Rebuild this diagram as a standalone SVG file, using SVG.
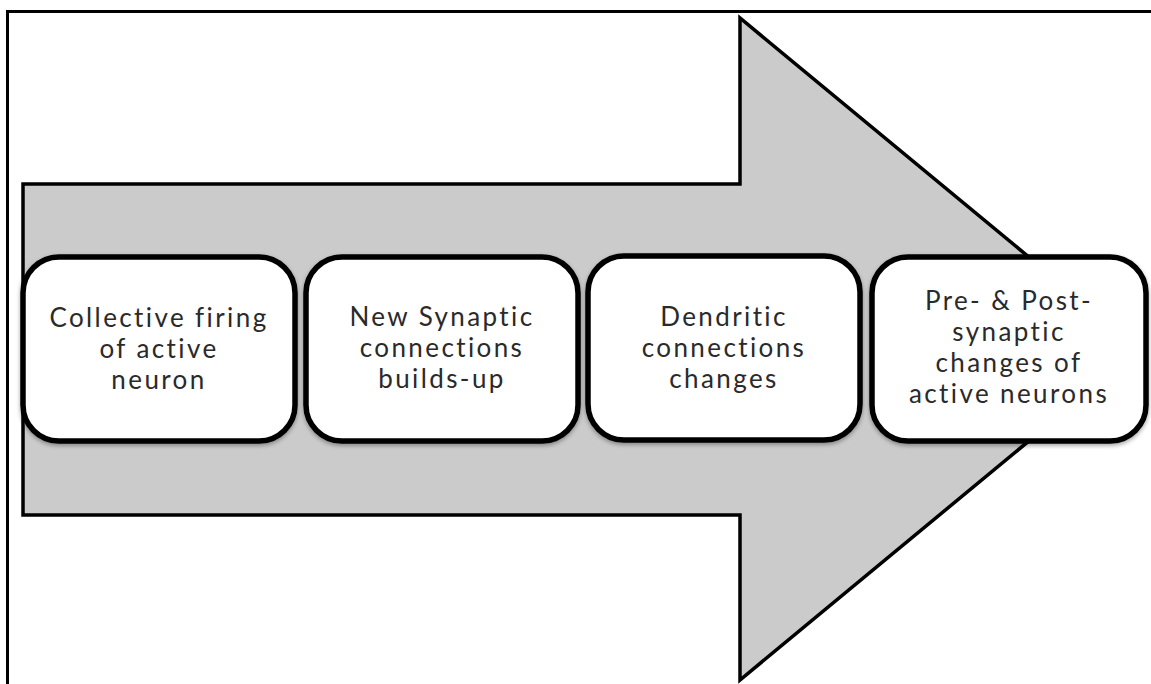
<svg xmlns="http://www.w3.org/2000/svg" width="1151" height="684" viewBox="0 0 1151 684">
  <defs>
    <filter id="soft" x="-5%" y="-5%" width="110%" height="115%">
      <feDropShadow dx="0" dy="2" stdDeviation="2" flood-color="#000" flood-opacity="0.35"/>
    </filter>
  </defs>
  <style>
    .frame { fill: none; stroke: #000; stroke-width: 3; }
    .arrow { fill: #cbcbcb; stroke: #000; stroke-width: 3.5; stroke-linejoin: miter; }
    .step rect { fill: #fff; stroke: #000; stroke-width: 5.5; filter: url(#soft); }
    .step text { font-family: Lato, "Open Sans", sans-serif; font-size: 26px; letter-spacing: 2.4px; fill: #2a2a2a; text-anchor: middle; }
  </style>

  <rect width="1151" height="684" fill="#fff"/>

  <!-- page border -->
  <path class="frame" d="M7.5,684 V11.5 H1151"/>

  <!-- block arrow -->
  <g id="arrow">
    <path class="arrow" d="M23,184 H740 V18 L1140,349 L740,680 V515 H23 Z"/>
  </g>

  <g id="step1" class="step">
    <rect x="23" y="257" width="272" height="184" rx="36"/>
    <text x="159" y="327">Collective firing</text>
    <text x="159" y="358">of active</text>
    <text x="159" y="389">neuron</text>
  </g>

  <g id="step2" class="step">
    <rect x="306" y="257" width="272" height="184" rx="36"/>
    <text x="442" y="326">New Synaptic</text>
    <text x="442" y="357">connections</text>
    <text x="442" y="388">builds-up</text>
  </g>

  <g id="step3" class="step">
    <rect x="588" y="256" width="272" height="184" rx="36"/>
    <text x="724" y="326">Dendritic</text>
    <text x="724" y="357">connections</text>
    <text x="724" y="388">changes</text>
  </g>

  <g id="step4" class="step">
    <rect x="872" y="257" width="274" height="184" rx="36"/>
    <text x="1009" y="310">Pre- &amp; Post-</text>
    <text x="1009" y="341">synaptic</text>
    <text x="1009" y="372">changes of</text>
    <text x="1009" y="403">active neurons</text>
  </g>
</svg>
